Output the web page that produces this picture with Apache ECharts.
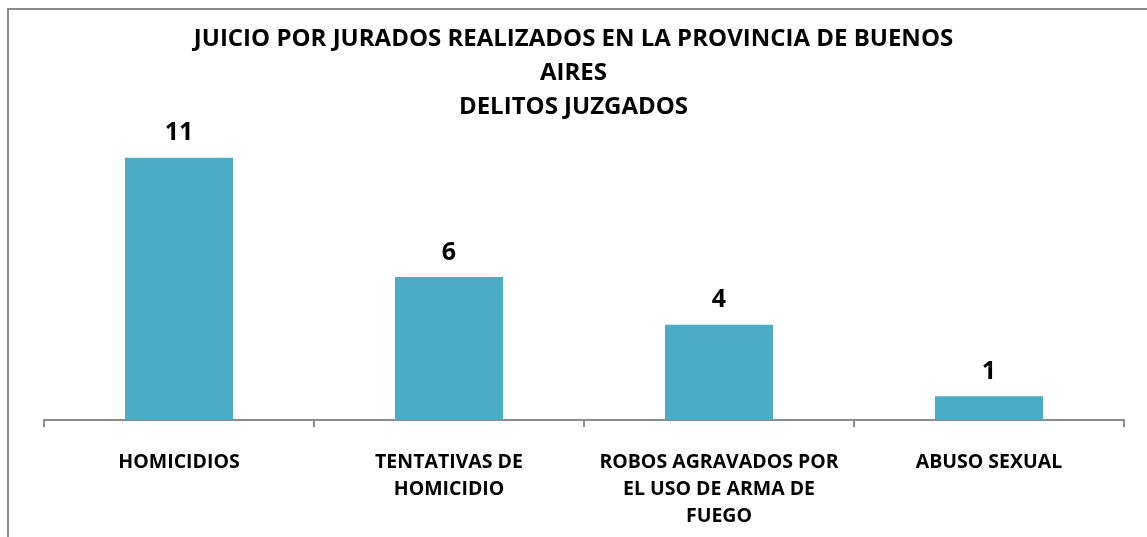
<!DOCTYPE html>
<html>
<head>
<meta charset="utf-8">
<script src="https://cdn.jsdelivr.net/npm/echarts@6/dist/echarts.min.js"></script>
<style>
	html,body{margin:0;padding:0;background:#fff;}
	#frame{position:absolute;left:7px;top:8px;width:2000px;height:2000px;border-left:2px solid #8c8c8c;border-top:2px solid #8c8c8c;}
	#chart{position:absolute;left:0;top:0;width:1147px;height:537px;}
</style>
</head>
<body>
<div id="frame"></div>
<div id="chart"></div>
<script>
	// delitos juzgados
	var categorias = ['HOMICIDIOS', 'TENTATIVAS DE\nHOMICIDIO', 'ROBOS AGRAVADOS POR\nEL USO DE ARMA DE\nFUEGO', 'ABUSO SEXUAL'];
	var cantidades = [11, 6, 4, 1];
	var titulo = 'JUICIO POR JURADOS REALIZADOS EN LA PROVINCIA DE BUENOS\nAIRES\nDELITOS JUZGADOS';

	var fuente = '"Open Sans", Lato, sans-serif';
	var chart = echarts.init(document.getElementById('chart'));
	var option = {
		animation: false,
		title: {
			text: titulo,
			left: 'center',
			top: 17,
			textStyle: {
				fontFamily: fuente,
				fontWeight: 'bold',
				fontSize: 24,
				lineHeight: 34,
				color: '#000'
			}
		},
		grid: {
			left: 44,
			right: 23,
			top: 134,
			bottom: 117
		},
		xAxis: {
			type: 'category',
			data: categorias,
			axisLine: {lineStyle: {color: '#8c8c8c', width: 2}},
			axisTick: {show: true, length: 7, lineStyle: {color: '#8c8c8c', width: 2}},
			axisLabel: {
				interval: 0,
				margin: 29,
				fontFamily: fuente,
				fontWeight: 'bold',
				fontSize: 19.5,
				lineHeight: 27,
				color: '#000'
			}
		},
		yAxis: {
			type: 'value',
			min: 0,
			max: 12,
			show: false
		},
		series: [{
			type: 'bar',
			data: cantidades,
			barWidth: 108,
			itemStyle: {color: '#4BACC6'},
			label: {
				show: true,
				position: 'top',
				distance: 12,
				fontFamily: fuente,
				fontWeight: 'bold',
				fontSize: 25,
				color: '#000'
			}
		}]
	};
	chart.setOption(option);
</script>
</body>
</html>
